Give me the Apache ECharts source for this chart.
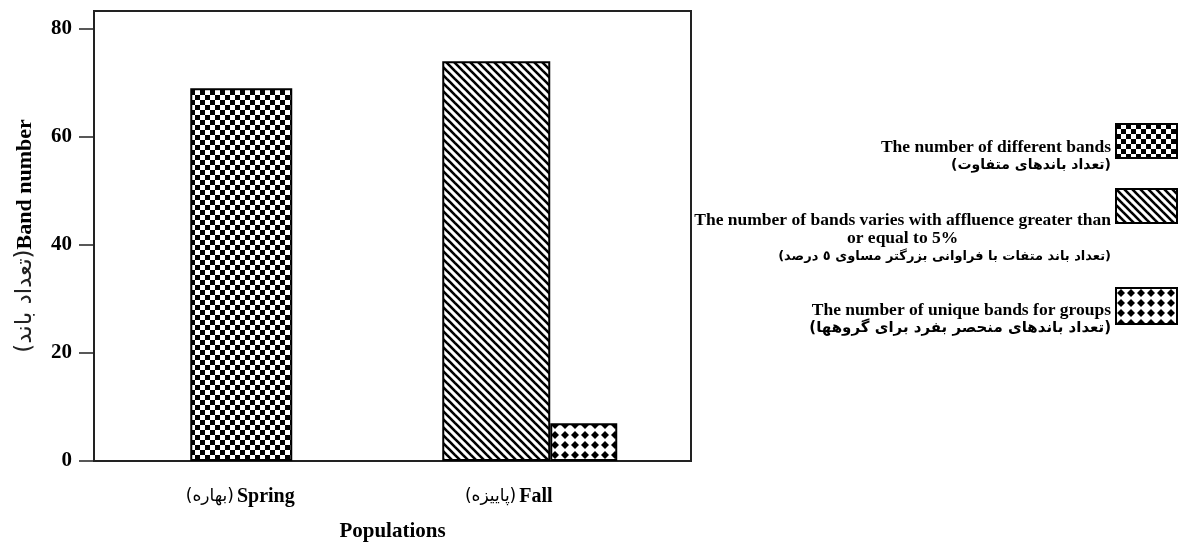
<!DOCTYPE html>
<html>
<head>
<meta charset="utf-8">
<script src="https://cdn.jsdelivr.net/npm/echarts@6/dist/echarts.min.js"></script>
<style>
    html, body {margin: 0; padding: 0; background: #fff;}
    #main {width: 1183px; height: 550px;}
</style>
</head>
<body>
<div id="main"></div>
<script>
var categories = ['Spring', 'Fall'];
var categoriesFa = ['(بهاره)', '(پاییزه)'];
var yTicks = [0, 20, 40, 60, 80];
// bar values
var differentBands = [69, '-'];
var variedBands = ['-', 74];
var uniqueBands = ['-', 7];
// legend texts
var legendEn = [
    ['The number of different bands'],
    ['The number of bands varies with affluence greater than', 'or equal to 5%'],
    ['The number of unique bands for groups']
];
var legendFa = [
    '(تعداد باندهای متفاوت)',
    '(تعداد باند متفات با فراوانی بزرگتر مساوی ٥ درصد)',
    '(تعداد باندهای منحصر بفرد برای گروهها)'
];
var seriesNames = legendEn.map(function (l) { return l.join(' '); });

var SERIF = '"Liberation Serif", "Times New Roman", serif';
var FA = '"DejaVu Sans", sans-serif';

//hatch patterns
var makePattern = function (w, h, draw) {
    var c = document.createElement('canvas');
    c.width = w;
    c.height = h;
    var ctx = c.getContext('2d');
    ctx.fillStyle = '#fff';
    ctx.fillRect(0, 0, w, h);
    ctx.fillStyle = '#000';
    ctx.strokeStyle = '#000';
    draw(ctx);
    return {image: c, repeat: 'repeat'};
};
var checker = makePattern(10, 10, function (ctx) {
    ctx.fillRect(0, 0, 5, 5);
    ctx.fillRect(5, 5, 5, 5);
});
var stripes = makePattern(8, 8, function (ctx) {
    ctx.lineWidth = 2.6;
    [-8, 0, 8].forEach(function (k) {
        ctx.beginPath();
        ctx.moveTo(k - 2, -2);
        ctx.lineTo(k + 10, 10);
        ctx.stroke();
    });
});
var dots = makePattern(10, 10, function (ctx) {
    ctx.beginPath();
    ctx.moveTo(5, 1);
    ctx.lineTo(9, 5);
    ctx.lineTo(5, 9);
    ctx.lineTo(1, 5);
    ctx.closePath();
    ctx.fill();
});
var patterns = [checker, stripes, dots];

var legendTops = [123, 188, 287];
var legendHeights = [34, 34, 36];
var legendPads = [31, 65, 27];
var legendFaSize = [14, 13, 15];

var legends = [0, 1, 2].map(function (i) {
    return {
        data: [seriesNames[i]],
        right: 5,
        top: legendTops[i],
        padding: 0,
        orient: 'vertical',
        align: 'right',
        icon: 'rect',
        itemWidth: 61,
        itemHeight: legendHeights[i],
        selectedMode: false,
        formatter: function () {
            var lines = legendEn[i].map(function (t, k) {
                return '{' + (k === 0 ? 'en' : 'mid') + '|' + t + '}';
            });
            lines.push('{fa|' + legendFa[i] + '}');
            return lines.join('\n');
        },
        textStyle: {
            padding: [legendPads[i], 0, 0, 0],
            rich: {
                en: {fontFamily: SERIF, fontWeight: 'bold', fontSize: 17.5, lineHeight: 18, align: 'right', color: '#000'},
                mid: {fontFamily: SERIF, fontWeight: 'bold', fontSize: 17.5, lineHeight: 18, align: 'center', color: '#000'},
                fa: {fontFamily: FA, fontWeight: 'bold', fontSize: legendFaSize[i], lineHeight: 19, align: 'right', color: '#000'}
            }
        }
    };
});

var chart = echarts.init(document.getElementById('main'));
var barStyle = function (i) {
    return {color: patterns[i], borderColor: '#000', borderWidth: 2};
};
var option = {
    animation: false,
    textStyle: {fontFamily: SERIF, color: '#000'},
    legend: legends,
    grid: [
        {left: 94, right: 492, top: 11, bottom: 89, show: true, borderColor: '#222', borderWidth: 2},
        {left: 97, right: 509, top: 11, bottom: 89}
    ],
    xAxis: [
        {
            gridIndex: 0,
            type: 'category',
            data: [
                {value: categories[0], textStyle: {padding: [0, 6, 0, 0]}},
                {value: categories[1], textStyle: {padding: [0, 66, 0, 0]}}
            ],
            axisLine: {lineStyle: {color: '#222', width: 2}},
            axisTick: {show: false},
            axisLabel: {
                margin: 26,
                formatter: function (v, idx) {
                    return '{fa|' + categoriesFa[idx] + '} {en|' + v + '}';
                },
                rich: {
                    fa: {fontFamily: FA, fontSize: 17, color: '#000'},
                    en: {fontFamily: SERIF, fontWeight: 'bold', fontSize: 20, color: '#000'}
                }
            },
            name: 'Populations',
            nameLocation: 'middle',
            nameGap: 60,
            nameTextStyle: {fontFamily: SERIF, fontWeight: 'bold', fontSize: 21, color: '#000'}
        },
        {gridIndex: 1, type: 'category', data: categories, show: false},
        {gridIndex: 1, type: 'category', data: categories, show: false}
    ],
    yAxis: [
        {
            gridIndex: 0,
            type: 'value',
            min: 0,
            max: 83.3,
            interval: 20,
            splitLine: {show: false},
            axisLine: {show: true, lineStyle: {color: '#222', width: 2}},
            axisTick: {show: true, length: 15, customValues: yTicks, lineStyle: {color: '#222', width: 1.5}},
            axisLabel: {
                customValues: yTicks,
                margin: 22,
                fontFamily: SERIF,
                fontWeight: 'bold',
                fontSize: 21,
                color: '#000'
            },
            name: '{fa|(تعداد باند)}{en|Band number}',
            nameLocation: 'middle',
            nameRotate: 90,
            nameGap: 57,
            nameTextStyle: {
                rich: {
                    fa: {fontFamily: FA, fontSize: 23, color: '#222'},
                    en: {fontFamily: SERIF, fontWeight: 'bold', fontSize: 22, color: '#000'}
                }
            }
        },
        {gridIndex: 1, type: 'value', min: 0, max: 83.3, show: false, splitLine: {show: false}}
    ],
    series: [
        {
            name: seriesNames[0],
            type: 'bar',
            xAxisIndex: 1,
            yAxisIndex: 1,
            barWidth: 102,
            data: differentBands,
            itemStyle: barStyle(0),
            emphasis: {disabled: true}
        },
        {
            name: seriesNames[1],
            type: 'bar',
            xAxisIndex: 2,
            yAxisIndex: 1,
            barWidth: 108,
            barGap: 0,
            data: variedBands,
            itemStyle: barStyle(1),
            emphasis: {disabled: true}
        },
        {
            name: seriesNames[2],
            type: 'bar',
            xAxisIndex: 2,
            yAxisIndex: 1,
            barWidth: 67,
            barGap: 0,
            data: uniqueBands,
            itemStyle: barStyle(2),
            emphasis: {disabled: true}
        }
    ]
};
chart.setOption(option);
</script>
</body>
</html>
